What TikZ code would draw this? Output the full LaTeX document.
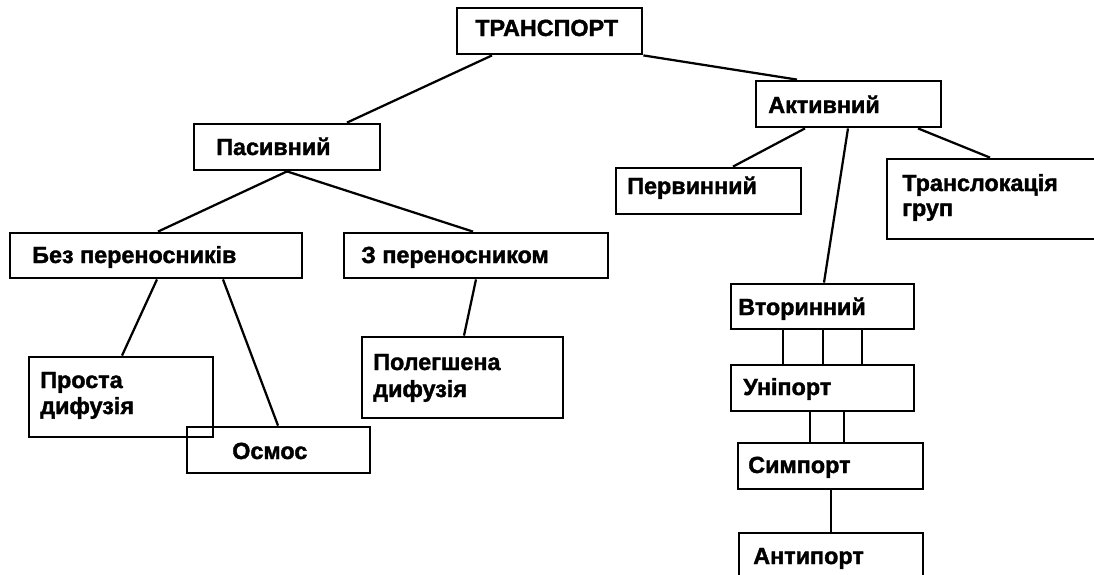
\documentclass[tikz,border=0pt]{standalone}
\usepackage{fontspec}
\setmainfont{Liberation Sans}[BoldFeatures={FakeBold=1.6}]
\usetikzlibrary{fit}
\newcommand\mybox[5]{%
  \coordinate (#1-a) at (#2,#3);
  \coordinate (#1-b) at (#4,#5);
  \node[box, fit=(#1-a)(#1-b)] (#1) {};}
\begin{document}
\begin{tikzpicture}[x=0.025cm,y=-0.025cm,
  box/.style={draw, line width=2pt, inner sep=0pt},
  lbl/.style={anchor=base west, inner sep=0pt, font=\bfseries\fontsize{16.6}{19}\selectfont},
  link/.style={line width=1.6pt}]
\fill[white] (0,0) rectangle (1094,574);
\useasboundingbox (0,0) rectangle (1094,574);

% boxes
\mybox{tr}{457}{8}{642}{54}
\mybox{pas}{194}{124}{380}{170}
\mybox{akt}{756}{81}{941}{127}
\mybox{perv}{616}{168}{801}{214}
\mybox{transl}{887}{159}{1110}{239}
\mybox{bez}{10}{233}{302}{278}
\mybox{zp}{344}{233}{608}{278}
\mybox{vtor}{731}{284}{914}{329}
\mybox{uni}{731}{365}{914}{411}
\mybox{sym}{738}{443}{923}{489}
\mybox{anti}{739}{533}{923}{590}
\mybox{prosta}{29}{357}{213}{437}
\mybox{osmos}{187}{427}{370}{473}
\mybox{poleg}{362}{337}{563}{418}

% labels
\node[lbl] (ttr) at (475,36) {ТРАНСПОРТ};
\node[lbl] (tpas) at (216,155) {Пасивний};
\node[lbl] (takt) at (768,113) {Активний};
\node[lbl] (tperv) at (627,194) {Первинний};
\node[lbl] (ttransl1) at (902,191) {Транслокація};
\node[lbl] (ttransl2) at (902,216) {груп};
\node[lbl] (tbez) at (32,263) {Без переносників};
\node[lbl] (tzp) at (361,263) {З переносником};
\node[lbl] (tprosta1) at (40,388) {Проста};
\node[lbl] (tprosta2) at (40,414) {дифузія};
\node[lbl] (tosmos) at (232,459) {Осмос};
\node[lbl] (tpoleg1) at (373,370) {Полегшена};
\node[lbl] (tpoleg2) at (373,397) {дифузія};
\node[lbl] (tvtor) at (738,315) {Вторинний};
\node[lbl] (tuni) at (743,395) {Уніпорт};
\node[lbl] (tsym) at (748,473) {Симпорт};
\node[lbl] (tanti) at (753,564) {Антипорт};

% connectors
\draw[link] (tr.south -| 492,0) -- (pas.north -| 347,0);
\draw[link] (tr.south east) -- (akt.north -| 797,0);
\draw[link] (pas.south -| 287,0) -- (bez.north -| 158,0);
\draw[link] (pas.south -| 287,0) -- (zp.north -| 473,0);
\draw[link] (bez.south -| 157,0) -- (prosta.north -| 122,0);
\draw[link] (bez.south -| 223,0) -- (osmos.north -| 278,0);
\draw[link] (zp.south -| 476,0) -- (poleg.north -| 464,0);
\draw[link] (akt.south -| 805,0) -- (perv.north -| 733,0);
\draw[link] (akt.south -| 848,0) -- (vtor.north -| 824,0);
\draw[link] (akt.south -| 918,0) -- (transl.north -| 990,0);
\foreach \xx in {783,823,862} \draw[link] (vtor.south -| \xx,0) -- (uni.north -| \xx,0);
\foreach \xx in {810,844} \draw[link] (uni.south -| \xx,0) -- (sym.north -| \xx,0);
\draw[link] (sym.south -| 831,0) -- (anti.north -| 831,0);
\end{tikzpicture}
\end{document}
